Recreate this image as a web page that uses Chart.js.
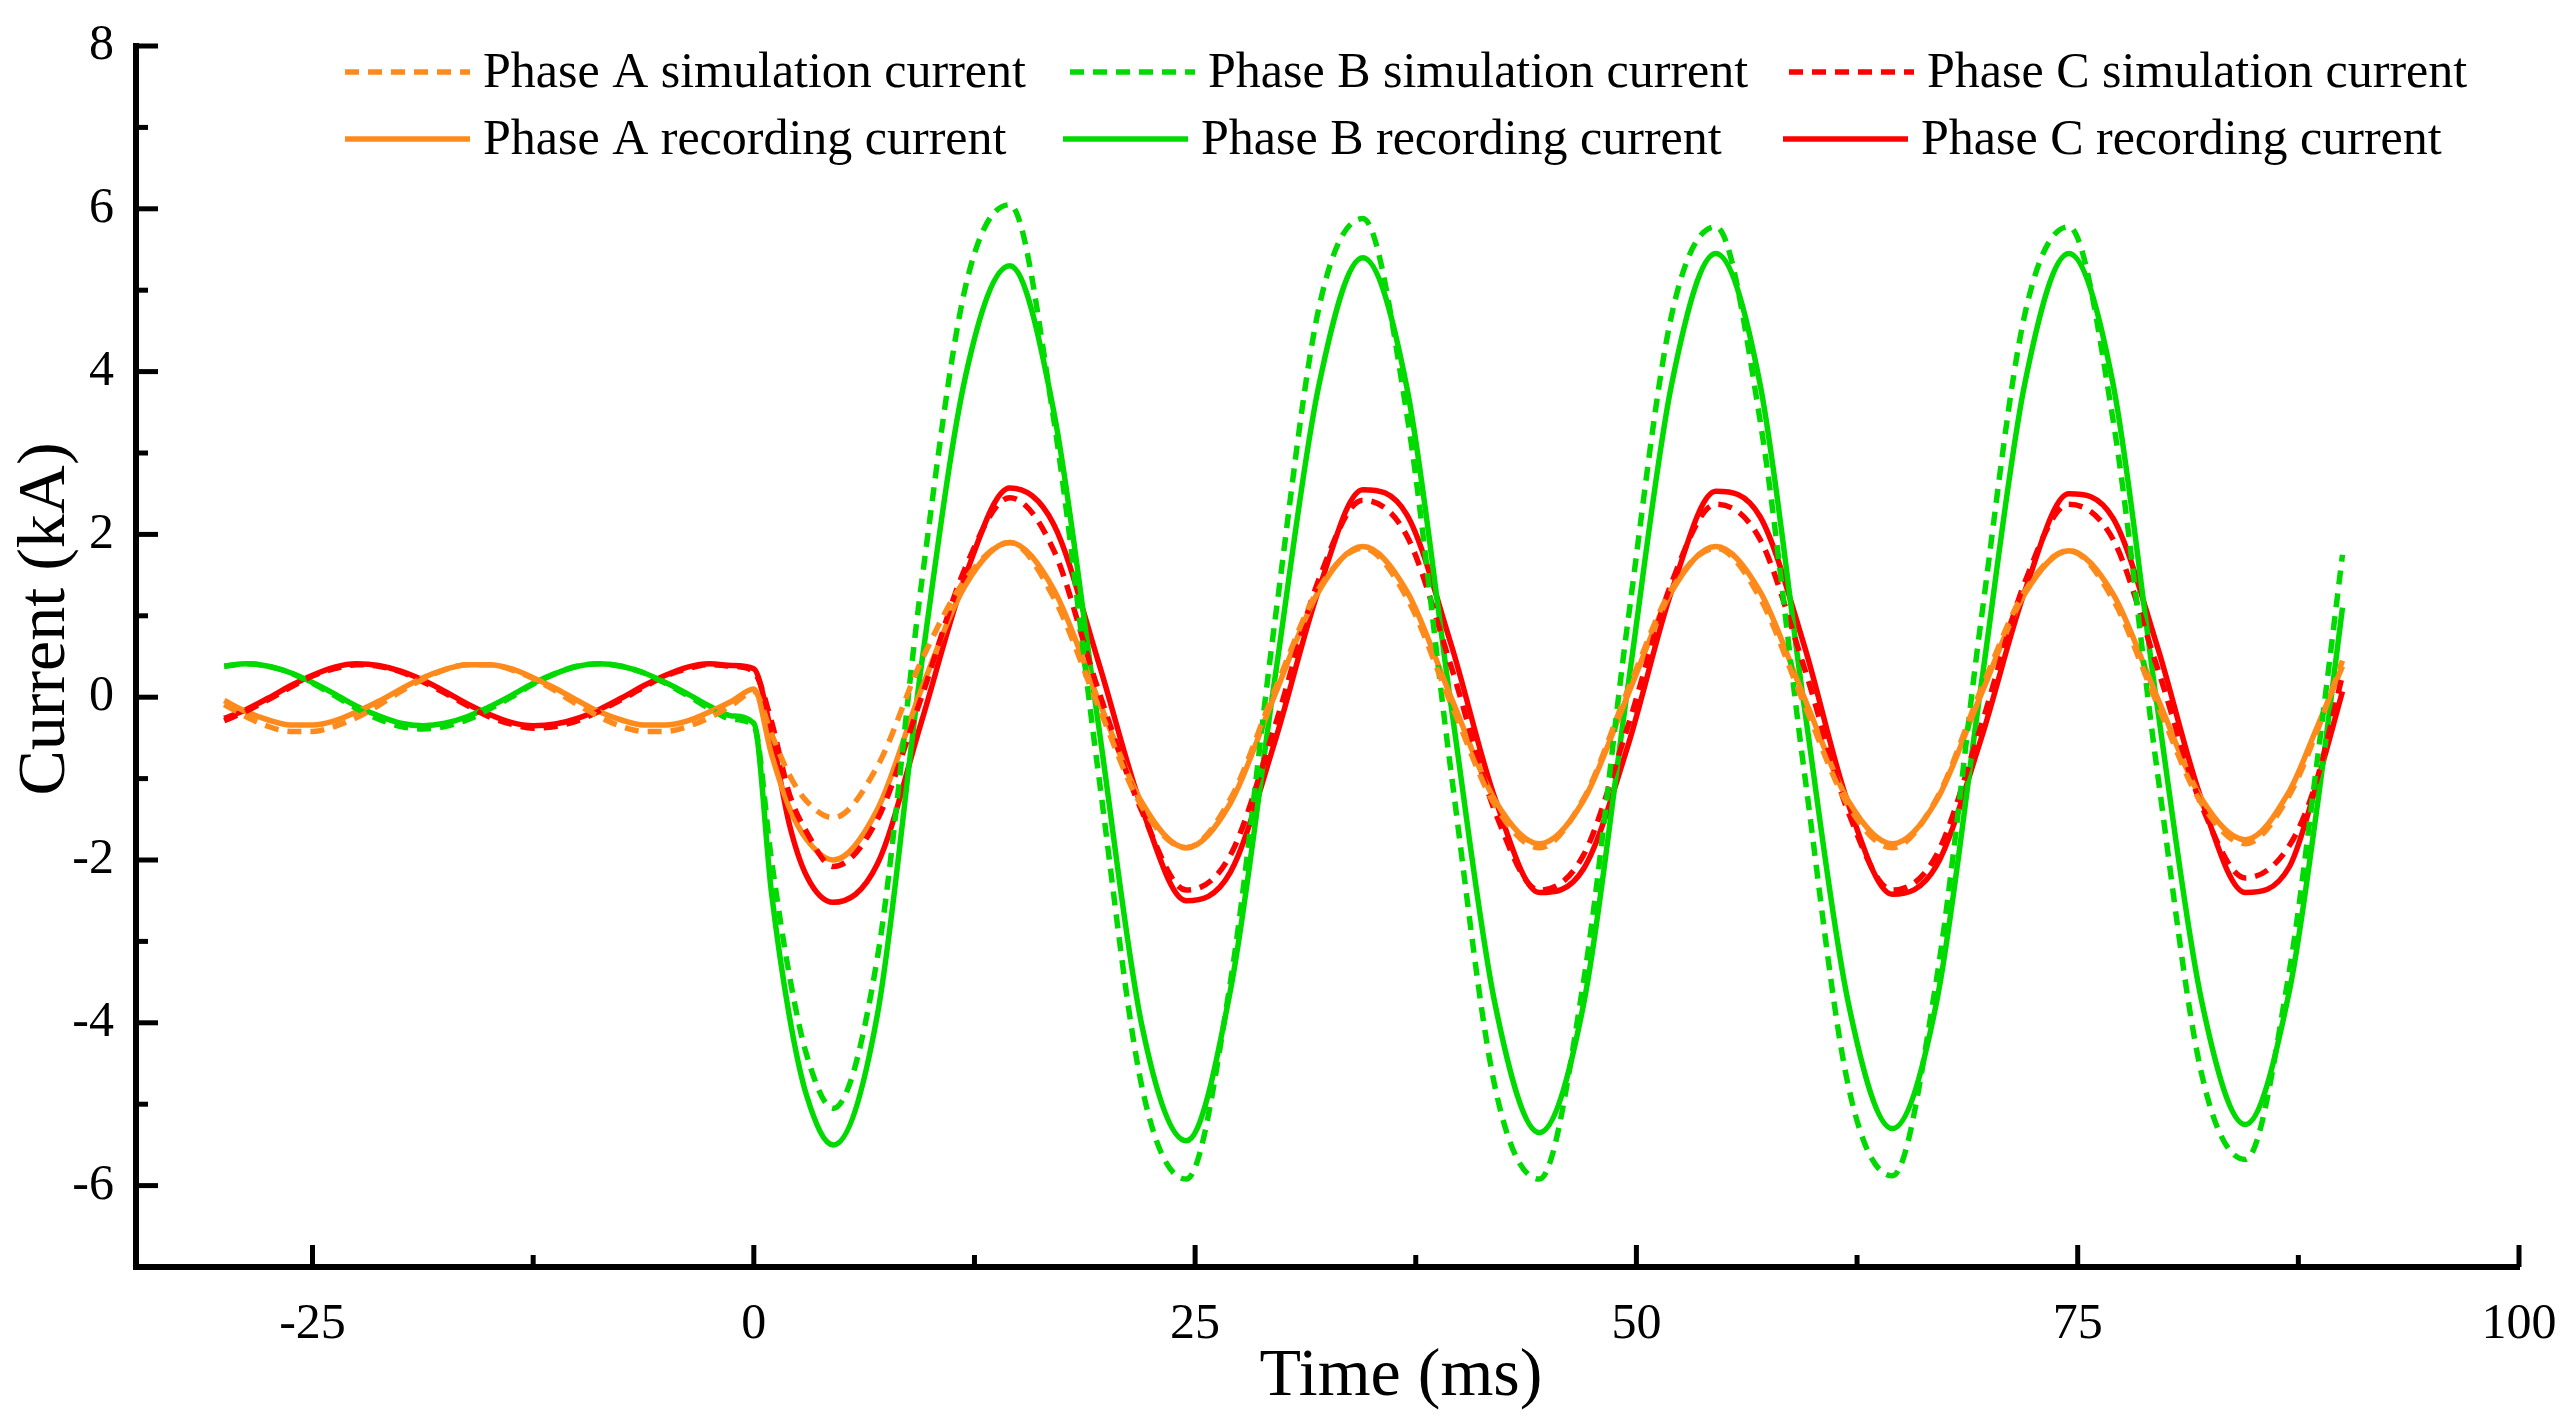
<!DOCTYPE html>
<html>
<head>
<meta charset="utf-8">
<script src="https://cdn.jsdelivr.net/npm/chart.js@4.4.1/dist/chart.umd.min.js"></script>
<style>
  html, body { margin: 0; padding: 0; background: #fff; }
  #wrap { width: 2573px; height: 1426px; }
</style>
</head>
<body>
<div id="wrap"><canvas id="myChart" width="2573" height="1426"></canvas></div>
<script>
// time axis (ms), shared by all six curves
const times = [
  -30, -28.75, -27.5, -26.25, -25, -23.75, -22.5, -21.25, -20, -18.75, -17.5, -16.25,
  -15, -13.75, -12.5, -11.25, -10, -8.75, -7.5, -6.25, -5, -3.75, -2.5, -1.25, 0,
  1, 2, 3, 4.5, 7, 9.5, 12, 14.5, 17, 19.5, 22, 24.5, 27, 29.5, 32, 34.5, 37, 39.5,
  42, 44.5, 47, 49.5, 52, 54.5, 57, 59.5, 62, 64.5, 67, 69.5, 72, 74.5, 77, 79.5,
  82, 84.5, 87, 88.5, 90
];

// current values (kA)
const phaseASim = [
  -0.09, -0.24, -0.36, -0.42, -0.42, -0.36, -0.25, -0.10, 0.07, 0.22, 0.34, 0.40,
  0.40, 0.34, 0.23, 0.08, -0.09, -0.24, -0.36, -0.42, -0.42, -0.36, -0.25, -0.10, 0.07,
  -0.45, -0.95, -1.28, -1.48, -0.85, 0.45, 1.45, 1.9, 1.22, -0.1, -1.35, -1.85, -1.25, 0.08, 1.33, 1.83, 1.22, -0.08,
  -1.33, -1.85, -1.25, 0.08, 1.33, 1.83, 1.22, -0.08, -1.33, -1.85, -1.25, 0.08, 1.3, 1.8, 1.2, -0.08,
  -1.3, -1.8, -1.2, -0.45, 0.45
];
const phaseBSim = [
  0.38, 0.41, 0.38, 0.30, 0.17, 0.02, -0.14, -0.27, -0.36, -0.39, -0.36, -0.28,
  -0.15, 0.00, 0.16, 0.29, 0.38, 0.41, 0.38, 0.30, 0.17, 0.02, -0.14, -0.27, -0.35,
  -2.0, -3.4, -4.4, -5.05, -3.2, 1.4, 5.05, 6.05, 3.4, -0.9, -4.8, -5.92, -3.5, 0.9, 4.77, 5.88, 3.47, -0.92,
  -4.8, -5.92, -3.5, 0.9, 4.7, 5.78, 3.41, -0.9, -4.77, -5.88, -3.47, 0.9, 4.7, 5.78, 3.41, -0.9,
  -4.61, -5.68, -3.35, -0.9, 1.75
];
const phaseCSim = [
  -0.29, -0.17, -0.03, 0.12, 0.26, 0.35, 0.40, 0.38, 0.31, 0.19, 0.05, -0.10,
  -0.24, -0.33, -0.38, -0.36, -0.29, -0.17, -0.03, 0.12, 0.26, 0.35, 0.40, 0.38, 0.31,
  -0.3, -1.18, -1.66, -2.08, -1.5, 0.0, 1.6, 2.45, 1.8, 0.1, -1.41, -2.37, -1.94, -0.37, 1.44, 2.42, 1.98, 0.38,
  -1.41, -2.37, -1.94, -0.37, 1.41, 2.37, 1.94, 0.37, -1.41, -2.37, -1.94, -0.37, 1.41, 2.37, 1.94, 0.37,
  -1.32, -2.22, -1.82, -1.05, 0.27
];
const phaseARec = [
  -0.04, -0.18, -0.28, -0.34, -0.34, -0.29, -0.18, -0.05, 0.10, 0.24, 0.34, 0.40,
  0.40, 0.35, 0.24, 0.11, -0.04, -0.18, -0.28, -0.34, -0.34, -0.29, -0.18, -0.05, 0.10,
  -0.7, -1.35, -1.75, -2.0, -1.38, 0.1, 1.38, 1.9, 1.32, -0.02, -1.3, -1.85, -1.3, 0.02, 1.3, 1.85, 1.3, 0.0,
  -1.27, -1.8, -1.27, 0.02, 1.3, 1.85, 1.3, 0.0, -1.27, -1.8, -1.27, 0.02, 1.27, 1.8, 1.27, 0.0,
  -1.24, -1.75, -1.15, -0.4, 0.38
];
const phaseBRec = [
  0.38, 0.41, 0.38, 0.30, 0.18, 0.04, -0.11, -0.23, -0.32, -0.35, -0.32, -0.24,
  -0.12, 0.02, 0.17, 0.29, 0.38, 0.41, 0.38, 0.30, 0.18, 0.04, -0.11, -0.23, -0.32,
  -2.4, -3.9, -4.9, -5.5, -3.9, 0.4, 3.95, 5.3, 3.5, -0.3, -4.05, -5.45, -3.6, 0.2, 3.82, 5.4, 3.8, -0.1,
  -3.78, -5.35, -3.78, 0.1, 3.85, 5.45, 3.85, -0.1, -3.75, -5.3, -3.75, 0.1, 3.85, 5.45, 3.85, -0.1,
  -3.71, -5.25, -3.6, -1.45, 1.1
];
const phaseCRec = [
  -0.26, -0.15, -0.01, 0.14, 0.27, 0.37, 0.41, 0.39, 0.32, 0.21, 0.07, -0.08,
  -0.21, -0.31, -0.35, -0.33, -0.26, -0.15, -0.01, 0.14, 0.27, 0.37, 0.41, 0.39, 0.35,
  -0.45, -1.55, -2.2, -2.52, -2.05, -0.3, 1.5, 2.57, 2.12, 0.45, -1.37, -2.5, -2.15, -0.56, 1.32, 2.55, 2.24, 0.65,
  -1.25, -2.4, -2.11, -0.61, 1.31, 2.53, 2.22, 0.64, -1.31, -2.42, -2.07, -0.53, 1.3, 2.5, 2.2, 0.63,
  -1.25, -2.4, -2.08, -1.1, 0.07
];

const xTicks = [-25, 0, 25, 50, 75, 100];
const xMinorTicks = [-12.5, 12.5, 37.5, 62.5, 87.5];
const yTicks = [-6, -4, -2, 0, 2, 4, 6, 8];
const yMinorTicks = [-5, -3, -1, 1, 3, 5, 7];

const ORANGE = '#FF8A1C';
const GREEN = '#00DA00';
const RED = '#FF0000';
const FONT = '"Liberation Serif", "Times New Roman", serif';

const toPoints = (arr) => times.map((t, i) => ({ x: t, y: arr[i] }));

const series = [
  { label: 'Phase A simulation current', data: phaseASim, color: ORANGE, dash: [14, 9] },
  { label: 'Phase B simulation current', data: phaseBSim, color: GREEN, dash: [14, 9] },
  { label: 'Phase C simulation current', data: phaseCSim, color: RED, dash: [14, 9] },
  { label: 'Phase A recording current', data: phaseARec, color: ORANGE, dash: [] },
  { label: 'Phase B recording current', data: phaseBRec, color: GREEN, dash: [] },
  { label: 'Phase C recording current', data: phaseCRec, color: RED, dash: [] }
];

// inward tick marks on both axes
const innerTicks = {
  id: 'innerTicks',
  afterDraw(chart) {
    const { ctx, chartArea, scales } = chart;
    ctx.save();
    ctx.strokeStyle = '#000';
    ctx.lineWidth = 5;
    const xs = scales.x, ys = scales.y;
    xTicks.forEach(v => {
      const p = xs.getPixelForValue(v);
      ctx.beginPath(); ctx.moveTo(p, chartArea.bottom); ctx.lineTo(p, chartArea.bottom - 22); ctx.stroke();
    });
    xMinorTicks.forEach(v => {
      const p = xs.getPixelForValue(v);
      ctx.beginPath(); ctx.moveTo(p, chartArea.bottom); ctx.lineTo(p, chartArea.bottom - 12); ctx.stroke();
    });
    yTicks.forEach(v => {
      const p = ys.getPixelForValue(v);
      ctx.beginPath(); ctx.moveTo(chartArea.left, p); ctx.lineTo(chartArea.left + 22, p); ctx.stroke();
    });
    yMinorTicks.forEach(v => {
      const p = ys.getPixelForValue(v);
      ctx.beginPath(); ctx.moveTo(chartArea.left, p); ctx.lineTo(chartArea.left + 12, p); ctx.stroke();
    });
    ctx.restore();
  }
};

// legend inside the plot (3 columns x 2 rows) and axis titles
const legendAndTitles = {
  id: 'legendAndTitles',
  afterDraw(chart) {
    const ctx = chart.ctx;
    const cols = [[345, 1070, 1789], [345, 1063, 1783]];
    const rows = [72, 139];
    ctx.save();
    ctx.font = '50px ' + FONT;
    ctx.textBaseline = 'middle';
    ctx.fillStyle = '#000';
    chart.data.datasets.forEach((ds, i) => {
      const r = Math.floor(i / 3);
      const x = cols[r][i % 3];
      const y = rows[r];
      ctx.strokeStyle = ds.borderColor;
      ctx.lineWidth = ds.borderWidth;
      ctx.setLineDash(ds.borderDash);
      ctx.beginPath(); ctx.moveTo(x, y); ctx.lineTo(x + 125, y); ctx.stroke();
      ctx.setLineDash([]);
      ctx.fillText(ds.label, x + 138, y + 2);
    });

    ctx.font = '68px ' + FONT;
    ctx.textAlign = 'center';
    ctx.fillText('Time (ms)', 1401, 1377);
    ctx.translate(46, 619);
    ctx.rotate(-Math.PI / 2);
    ctx.fillText('Current (kA)', 0, 0);
    ctx.restore();
  }
};

const ctx = document.getElementById('myChart').getContext('2d');
const myChart = new Chart(ctx, {
  type: 'line',
  data: {
    datasets: series.map(s => ({
      label: s.label,
      data: toPoints(s.data),
      borderColor: s.color,
      backgroundColor: s.color,
      borderWidth: 5.5,
      borderDash: s.dash,
      pointRadius: 0,
      fill: false,
      cubicInterpolationMode: 'monotone'
    }))
  },
  options: {
    responsive: false,
    animation: false,
    devicePixelRatio: 1,
    layout: { padding: { top: 46, right: 54, left: 0, bottom: 0 } },
    plugins: { legend: { display: false }, tooltip: { enabled: false } },
    scales: {
      x: {
        type: 'linear',
        min: -35,
        max: 100,
        afterBuildTicks: (scale) => { scale.ticks = xTicks.map(v => ({ value: v })); },
        afterFit: (scale) => { scale.height = 159; scale.paddingLeft = 0; scale.paddingRight = 0; },
        grid: { display: false, drawTicks: false },
        border: { display: true, color: '#000', width: 6 },
        ticks: { color: '#000', font: { family: FONT, size: 50 }, padding: 28, maxRotation: 0 }
      },
      y: {
        type: 'linear',
        min: -7,
        max: 8,
        afterBuildTicks: (scale) => { scale.ticks = yTicks.map(v => ({ value: v })); },
        afterFit: (scale) => { scale.width = 136; scale.paddingTop = 0; scale.paddingBottom = 0; },
        grid: { display: false, drawTicks: false },
        border: { display: true, color: '#000', width: 6 },
        ticks: { color: '#000', font: { family: FONT, size: 50 }, padding: 22 }
      }
    }
  },
  plugins: [innerTicks, legendAndTitles]
});
</script>
</body>
</html>
